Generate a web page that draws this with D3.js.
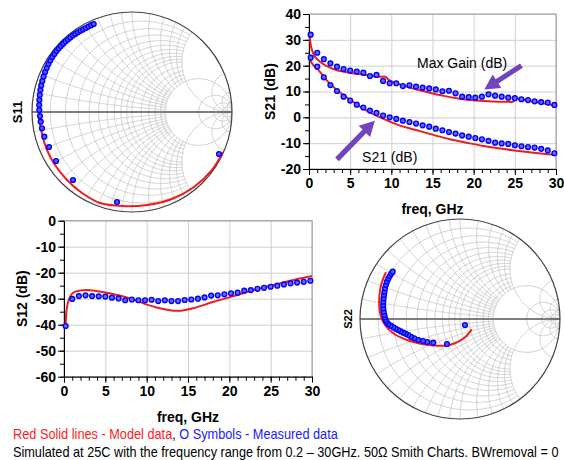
<!DOCTYPE html>
<html>
<head>
<meta charset="utf-8">
<script src="https://cdn.jsdelivr.net/npm/d3@7"></script>
<style>
  body { margin: 0; background: #fff; }
  text { font-family: "Liberation Sans", Arial, sans-serif; }
</style>
</head>
<body>
<svg id="chart" width="564" height="460"></svg>
<script>
// measured frequency grid (GHz)
const freqs = [0.2, 1.0, 1.8, 2.6, 3.4, 4.2, 5.0, 5.8, 6.6, 7.4, 8.2, 9.0, 9.8, 10.6, 11.4, 12.2,
               13.0, 13.8, 14.6, 15.4, 16.2, 17.0, 17.8, 18.6, 19.4, 20.2, 21.0, 21.8, 22.6, 23.4,
               24.2, 25.0, 25.8, 26.6, 27.4, 28.2, 29.0, 29.8];

const s21Meas = [23.1, 19.6, 15.5, 12.5, 10.2, 8.0, 6.5, 4.9, 3.8, 2.6, 1.7, 0.7, 0.0, -0.6, -1.3, -1.8,
                 -2.4, -3.1, -3.6, -4.4, -5.0, -5.7, -6.3, -7.0, -7.5, -8.0, -8.5, -9.1, -9.8, -10.1,
                 -10.3, -10.8, -11.2, -11.5, -11.7, -12.2, -12.8, -13.9];
const maxGainMeas = [32.0, 25.0, 22.5, 20.9, 19.6, 18.7, 18.1, 17.7, 17.3, 16.0, 16.4, 14.1, 13.2, 13.2,
                     12.1, 12.4, 11.9, 11.5, 11.2, 10.8, 10.1, 10.3, 9.3, 8.0, 7.8, 7.6, 8.0, 8.9, 8.4,
                     8.0, 7.6, 7.4, 7.0, 6.7, 6.2, 5.9, 5.7, 4.8];
const s12Meas = [-40.5, -30.1, -29.0, -28.7, -29.0, -29.1, -29.2, -29.6, -29.9, -30.6, -30.3, -30.6,
                 -30.6, -30.4, -30.9, -30.6, -30.9, -30.9, -30.5, -30.3, -30.0, -29.5, -28.8, -28.7,
                 -28.3, -27.9, -27.7, -26.9, -26.7, -26.2, -25.8, -25.4, -25.0, -24.5, -24.1, -23.8,
                 -23.5, -23.1];

// model curves
const s21ModelF = [0.1, 0.5, 1.3, 2.1, 3.3, 4.9, 6.9, 8.9, 10.9, 13.0, 15.1, 17.1, 19.1, 21.2, 23.2, 25.2, 27.3, 30];
const s21ModelV = [22.2, 20.3, 17.7, 14.5, 10.8, 7.0, 2.8, -0.4, -3.0, -4.9, -6.8, -8.5, -9.8, -11.1, -12.1, -12.9, -13.7, -14.6];
const maxGainModelF = [0.1, 0.3, 0.7, 1.3, 2.1, 3.3, 4.9, 6.9, 8.5, 9.3, 9.6, 10.1, 12.1, 14.2, 16.2, 18.3, 20.3, 22.3, 24.3, 24.8, 25.0, 26.4, 28.4, 30];
const maxGainModelV = [31.0, 26.7, 23.5, 21.6, 19.9, 18.3, 17.3, 16.4, 15.7, 15.7, 14.7, 13.8, 11.6, 9.9, 8.4, 7.2, 6.5, 6.1, 6.0, 6.1, 7.2, 6.5, 5.4, 4.4];
const s12ModelF = [0.2, 0.36, 0.7, 1.1, 1.9, 2.7, 3.9, 5.5, 7.6, 9.6, 11.6, 13.2, 14.2, 15.6, 18.1, 20.5, 22.9, 25.4, 27.8, 30];
const s12ModelV = [-40.3, -33.1, -29.5, -27.7, -26.9, -26.7, -27.0, -27.9, -29.5, -31.8, -33.7, -34.6, -34.6, -33.7, -31.2, -29.0, -26.7, -24.7, -22.8, -21.3];

// reflection coefficients [re, im]
const s11Meas = [[0.87, -0.42], [-0.15, -0.90], [-0.59, -0.68], [-0.76, -0.49], [-0.83, -0.35],
  [-0.877, -0.247], [-0.90, -0.163], [-0.913, -0.097], [-0.92, -0.04], [-0.927, 0.02], [-0.928, 0.07],
  [-0.926, 0.12], [-0.922, 0.17], [-0.916, 0.22], [-0.908, 0.265], [-0.897, 0.31], [-0.884, 0.355],
  [-0.869, 0.40], [-0.853, 0.44], [-0.836, 0.48], [-0.817, 0.515], [-0.797, 0.55], [-0.776, 0.58],
  [-0.755, 0.61], [-0.733, 0.635], [-0.711, 0.66], [-0.688, 0.683], [-0.665, 0.705], [-0.641, 0.725],
  [-0.617, 0.745], [-0.592, 0.764], [-0.567, 0.781], [-0.542, 0.797], [-0.516, 0.812], [-0.489, 0.826],
  [-0.462, 0.84], [-0.435, 0.855], [-0.408, 0.868], [-0.383, 0.88]];
const s11Model = [[0.91, -0.40], [0.80, -0.58], [0.62, -0.75], [0.40, -0.87], [0.15, -0.93], [-0.10, -0.94],
  [-0.32, -0.91], [-0.50, -0.81], [-0.65, -0.68], [-0.77, -0.53], [-0.85, -0.38], [-0.90, -0.22],
  [-0.925, -0.08], [-0.935, 0.05], [-0.935, 0.18], [-0.915, 0.30], [-0.885, 0.40], [-0.835, 0.50],
  [-0.765, 0.60], [-0.695, 0.68], [-0.62, 0.74]];
const s22Meas = [[0.05, -0.06], [-0.13, -0.25], [-0.267, -0.237], [-0.327, -0.23], [-0.37, -0.22],
  [-0.417, -0.21], [-0.457, -0.193], [-0.49, -0.178], [-0.517, -0.16], [-0.543, -0.148], [-0.567, -0.137],
  [-0.593, -0.124], [-0.617, -0.11], [-0.643, -0.097], [-0.667, -0.083], [-0.693, -0.067], [-0.717, -0.05],
  [-0.733, -0.03], [-0.743, -0.01], [-0.752, 0.015], [-0.757, 0.04], [-0.763, 0.073], [-0.767, 0.107],
  [-0.768, 0.14], [-0.767, 0.173], [-0.764, 0.207], [-0.76, 0.24], [-0.755, 0.273], [-0.75, 0.307],
  [-0.741, 0.34], [-0.73, 0.373], [-0.717, 0.403], [-0.703, 0.43], [-0.689, 0.452], [-0.673, 0.473]];
const s22Model = [[0.117, -0.103], [0.05, -0.183], [-0.05, -0.243], [-0.15, -0.267], [-0.283, -0.263],
  [-0.417, -0.243], [-0.55, -0.203], [-0.667, -0.143], [-0.75, -0.06], [-0.79, 0.023], [-0.807, 0.123],
  [-0.807, 0.223], [-0.793, 0.323], [-0.767, 0.407], [-0.74, 0.467]];

// smith grid values
const smithFine = [0.1, 0.2, 0.3, 0.4, 0.5, 0.6, 0.7, 0.8, 0.9, 1.0, 1.2, 1.4, 1.6, 1.8];
const smithCoarse = [2, 5, 10, 20];

const RED = "#ee1c1c", BLUE = "#0000ff", PURPLE = "#7343bf";
const svg = d3.select("#chart");

function gamma(r, x) {
  const den = (r + 1) * (r + 1) + x * x;
  return [(r * r - 1 + x * x) / den, 2 * x / den];
}

function drawSmith(cx, cy, R, meas, model, label, id) {
  const sx = d3.scaleLinear().domain([-1, 1]).range([cx - R, cx + R]);
  const sy = d3.scaleLinear().domain([-1, 1]).range([cy + R, cy - R]);
  const line = d3.line().x(d => sx(d[0])).y(d => sy(d[1]));
  const g = svg.append("g");

  g.append("clipPath").attr("id", id).append("circle")
    .attr("cx", cx).attr("cy", cy).attr("r", R);
  const grid = g.append("g").attr("clip-path", `url(#${id})`)
    .attr("fill", "none").attr("stroke", "#c4c4c4").attr("stroke-width", 0.8);

  const ts = d3.range(0, 401).map(i => i / 400);
  // resistance circles
  smithFine.forEach(r => {
    grid.append("path").attr("d", line(ts.map(t => gamma(r, 2 * (2 * t - 1)))));
  });
  smithCoarse.forEach(r => {
    grid.append("path").attr("d", line(ts.map(t => gamma(r, Math.tan((2 * t - 1) * Math.PI / 2 * 0.999)))));
  });
  // reactance arcs
  [1, -1].forEach(s => {
    smithFine.forEach(x => {
      grid.append("path").attr("d", line(ts.map(t => gamma(2 * t, s * x))));
    });
    smithCoarse.forEach(x => {
      grid.append("path").attr("d", line(ts.map(t => gamma(Math.tan(t * Math.PI / 2 * 0.999), s * x))));
    });
  });

  g.append("line")
    .attr("x1", sx(-1)).attr("x2", sx(1)).attr("y1", sy(0)).attr("y2", sy(0))
    .attr("stroke", "#555").attr("stroke-width", 1.3);
  g.append("circle")
    .attr("cx", sx(0)).attr("cy", sy(0)).attr("r", sx(1) - sx(0))
    .attr("fill", "none").attr("stroke", "#444").attr("stroke-width", 1.2);

  g.append("path")
    .attr("d", d3.line().x(d => sx(d[0])).y(d => sy(d[1])).curve(d3.curveCatmullRom)(model))
    .attr("fill", "none").attr("stroke", RED).attr("stroke-width", 2);
  g.selectAll("circle.pt").data(meas).join("circle")
    .attr("class", "pt")
    .attr("cx", d => sx(d[0])).attr("cy", d => sy(d[1])).attr("r", 2.4)
    .attr("fill", "#5a5aff").attr("stroke", BLUE).attr("stroke-width", 1.4);

  g.append("text")
    .attr("transform", `translate(${label.x},${cy}) rotate(-90)`)
    .attr("text-anchor", "middle").attr("font-weight", "bold")
    .attr("font-size", label.size).text(label.text);
}

function drawRect(box, yDomain, yTicks, yMinor, yTitle, series) {
  const x = d3.scaleLinear().domain([0, 30]).range([box.left, box.right]);
  const y = d3.scaleLinear().domain(yDomain).range([box.bottom, box.top]);
  const g = svg.append("g");
  const xTicks = [0, 5, 10, 15, 20, 25, 30];

  // grid
  g.append("g").attr("transform", `translate(0,${box.bottom})`)
    .call(d3.axisBottom(x).tickValues(xTicks).tickSize(-(box.bottom - box.top)).tickFormat(""))
    .call(a => a.select(".domain").remove())
    .call(a => a.selectAll("line").attr("stroke", "#cfcfcf"));
  g.append("g").attr("transform", `translate(${box.left},0)`)
    .call(d3.axisLeft(y).tickValues(yTicks).tickSize(-(box.right - box.left)).tickFormat(""))
    .call(a => a.select(".domain").remove())
    .call(a => a.selectAll("line").attr("stroke", "#cfcfcf"));
  g.append("rect")
    .attr("x", box.left).attr("y", box.top)
    .attr("width", box.right - box.left).attr("height", box.bottom - box.top)
    .attr("fill", "none").attr("stroke", "#9a9a9a");

  // minor ticks
  g.append("g").attr("transform", `translate(0,${box.bottom})`)
    .call(d3.axisBottom(x).tickValues(d3.range(0, 31, 1)).tickSize(4).tickFormat(""))
    .call(a => a.select(".domain").remove());
  g.append("g").attr("transform", `translate(${box.left},0)`)
    .call(d3.axisLeft(y).tickValues(yMinor).tickSize(4).tickFormat(""))
    .call(a => a.select(".domain").remove());

  // major axes
  const fmt = d => String(d);
  g.append("g").attr("transform", `translate(0,${box.bottom})`)
    .call(d3.axisBottom(x).tickValues(xTicks).tickSize(6).tickSizeOuter(0).tickPadding(3).tickFormat(fmt))
    .call(a => a.selectAll("text").attr("font-size", 14).attr("font-weight", "bold")
      .attr("fill", "#000").attr("font-family", "Liberation Sans, Arial, sans-serif"));
  g.append("g").attr("transform", `translate(${box.left},0)`)
    .call(d3.axisLeft(y).tickValues(yTicks).tickSize(6).tickSizeOuter(0).tickPadding(2).tickFormat(fmt))
    .call(a => a.selectAll("text").attr("font-size", 14).attr("font-weight", "bold")
      .attr("fill", "#000").attr("font-family", "Liberation Sans, Arial, sans-serif"));

  g.append("text")
    .attr("x", (box.left + box.right) / 2).attr("y", box.bottom + 45)
    .attr("text-anchor", "middle").attr("font-weight", "bold").attr("font-size", 14)
    .text("freq, GHz");
  g.append("text")
    .attr("transform", `translate(${box.titleX},${(box.top + box.bottom) / 2}) rotate(-90)`)
    .attr("text-anchor", "middle").attr("font-weight", "bold").attr("font-size", 14)
    .text(yTitle);

  const curve = d3.line().x(d => x(d[0])).y(d => y(d[1])).curve(d3.curveCatmullRom);
  series.forEach(s => {
    g.append("path").attr("d", curve(d3.zip(s.modelF, s.modelV)))
      .attr("fill", "none").attr("stroke", RED).attr("stroke-width", 2);
  });
  series.forEach(s => {
    g.append("g").selectAll("circle").data(d3.zip(freqs, s.meas)).join("circle")
      .attr("cx", d => x(d[0])).attr("cy", d => y(d[1])).attr("r", 2.4)
      .attr("fill", "#6a6aff").attr("stroke", BLUE).attr("stroke-width", 1.4);
  });
  return {x, y, g};
}

function arrow(g, x1, y1, x2, y2) {
  const dx = x2 - x1, dy = y2 - y1, len = Math.hypot(dx, dy);
  const ux = dx / len, uy = dy / len, nx = -uy, ny = ux;
  const hl = 15, hw = 8, sw = 2.6;
  const bx = x2 - ux * hl, by = y2 - uy * hl;
  const pts = [[x1 + nx * sw, y1 + ny * sw], [bx + nx * sw, by + ny * sw], [bx + nx * hw, by + ny * hw],
               [x2, y2], [bx - nx * hw, by - ny * hw], [bx - nx * sw, by - ny * sw], [x1 - nx * sw, y1 - ny * sw]];
  g.append("polygon").attr("points", pts.map(p => p.join(",")).join(" ")).attr("fill", PURPLE);
}

// S11 smith chart
drawSmith(132, 112, 100, s11Meas, s11Model, {x: 22, text: "S11", size: 13}, "clipS11");

// S22 smith chart
drawSmith(460, 319, 100, s22Meas, s22Model, {x: 352, text: "S22", size: 11}, "clipS22");

// S21 / Max gain
const s21 = drawRect({left: 309, right: 556, top: 14, bottom: 169, titleX: 275},
  [-20, 40], [-20, -10, 0, 10, 20, 30, 40], d3.range(-20, 41, 5), "S21 (dB)",
  [{modelF: maxGainModelF, modelV: maxGainModelV, meas: maxGainMeas},
   {modelF: s21ModelF, modelV: s21ModelV, meas: s21Meas}]);
arrow(s21.g, s21.x(25.8), s21.y(20.0), s21.x(21.3), s21.y(10.8));
arrow(s21.g, s21.x(3.4), s21.y(-16.3), s21.x(8.0), s21.y(-1.3));
s21.g.append("text").attr("x", s21.x(18.6)).attr("y", s21.y(21.0) + 5)
  .attr("text-anchor", "middle").attr("font-size", 14).text("Max Gain (dB)");
s21.g.append("text").attr("x", s21.x(9.8)).attr("y", s21.y(-15.4) + 5)
  .attr("text-anchor", "middle").attr("font-size", 14).text("S21 (dB)");

// S12
drawRect({left: 64, right: 312, top: 220.7, bottom: 376.7, titleX: 27},
  [-60, 0], [-60, -50, -40, -30, -20, -10, 0], d3.range(-60, 1, 5), "S12 (dB)",
  [{modelF: s12ModelF, modelV: s12ModelV, meas: s12Meas}]);

// footer, squeezed horizontally to the reference widths
function fitLine(t, x, y, width) {
  const w = t.node().getComputedTextLength();
  t.attr("transform", `translate(${x},${y}) scale(${width / w},1)`);
}
const f1 = svg.append("text").attr("font-size", 14);
f1.append("tspan").attr("fill", "#ff1a1a").text("Red Solid lines - Model data");
f1.append("tspan").attr("fill", "#000").text(", ");
f1.append("tspan").attr("fill", "#1a1aff").text("O Symbols - Measured data");
fitLine(f1, 13, 439, 325);
const f2 = svg.append("text").attr("font-size", 14).attr("fill", "#000")
  .text("Simulated at 25C with the frequency range from 0.2 \u2013 30GHz. 50\u03A9 Smith Charts. BWremoval = 0");
fitLine(f2, 13, 457, 546);
</script>
</body>
</html>
